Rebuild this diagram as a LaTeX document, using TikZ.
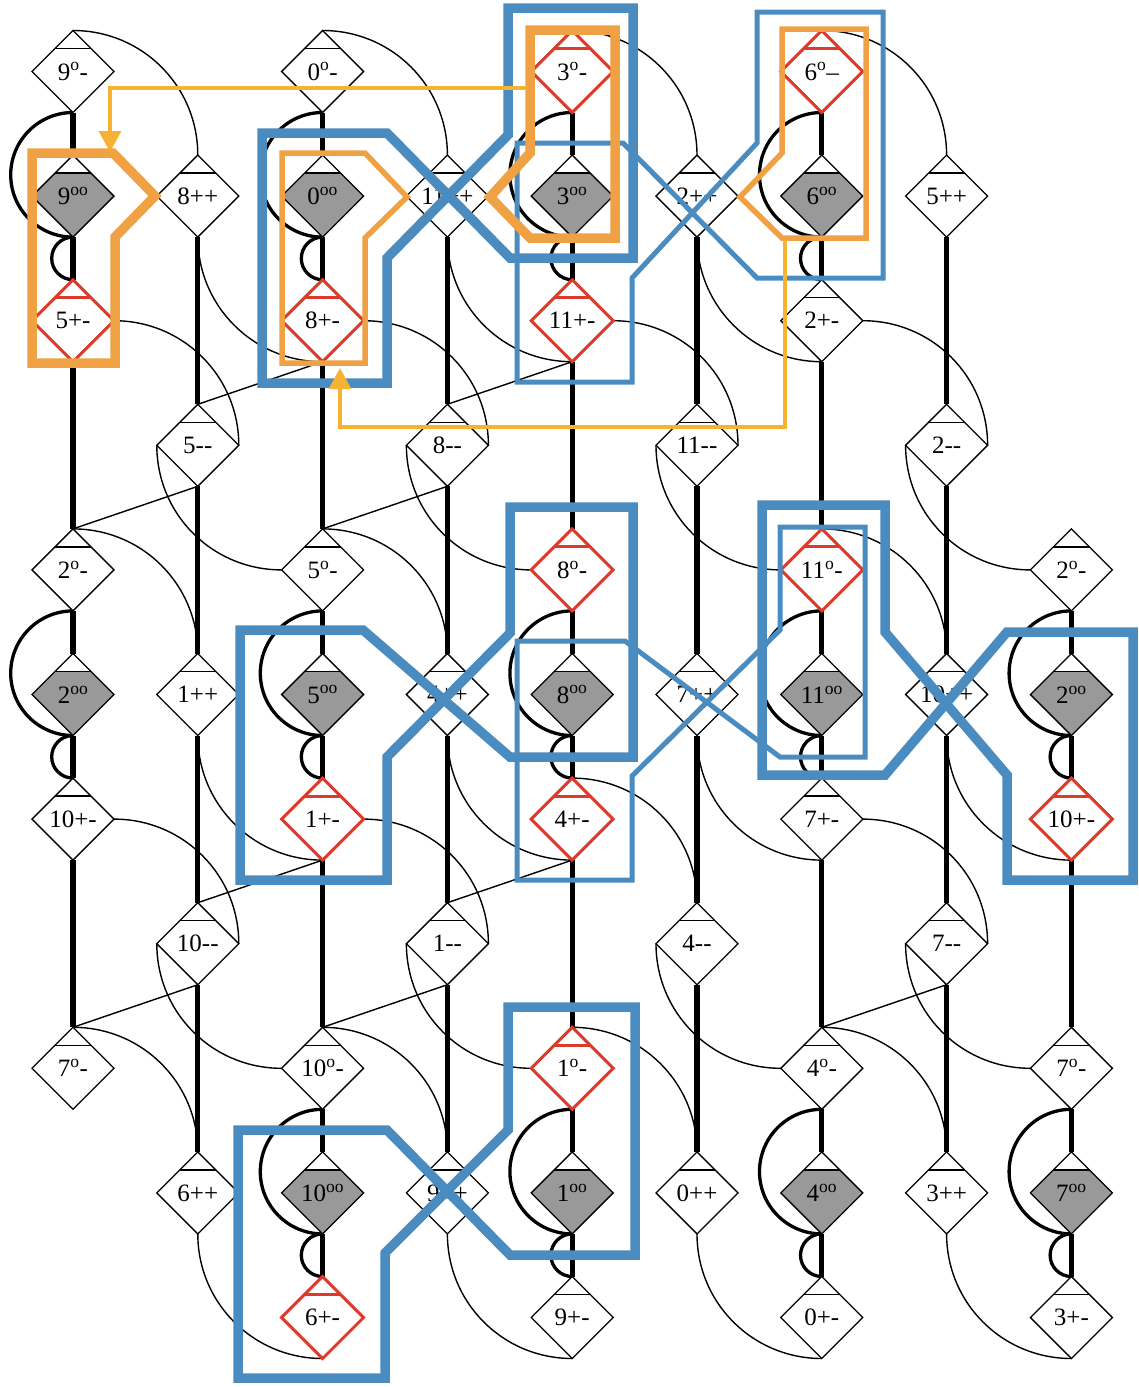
\documentclass[tikz,border=0pt]{standalone}
\usepackage{fontspec}
\setmainfont{Liberation Serif}
\usetikzlibrary{shapes.geometric, arrows.meta, backgrounds}

\definecolor{hlblue}{HTML}{4A8CC0}
\definecolor{hlorange}{HTML}{F0A144}
\definecolor{flowgold}{HTML}{F5B233}
\definecolor{sitered}{HTML}{DC3A2A}

% horizontal cut near the top vertex of a site
\newcommand{\cutline}[1]{\draw[#1] ([yshift=-18pt]path picture bounding box.north west) -- ([yshift=-18pt]path picture bounding box.north east);}

\begin{document}
\begin{tikzpicture}[
    x=1pt, y=1pt,
    site/.style={diamond, draw=black, fill=white, line width=1.3pt,
                 minimum width=82pt, minimum height=82pt, inner sep=0pt, outer sep=0pt,
                 font=\fontsize{25}{28}\selectfont,
                 path picture={\cutline{black, line width=1.3pt}}},
    hotsite/.style={site, draw=sitered, line width=3pt,
                 path picture={\cutline{sitered, line width=3pt}}},
    darksite/.style={site, fill=black!40,
                 path picture={\fill[white] (path picture bounding box.north west) rectangle ([yshift=-18pt]path picture bounding box.north east);
                               \cutline{black, line width=1.3pt}}},
    spine/.style={line width=5.3pt},
    bigturn/.style={line width=3.3pt},
    link/.style={line width=1.4pt},
    blueband/.style={draw=hlblue, line width=9.5pt, line join=miter},
    bluethin/.style={draw=hlblue, line width=5pt, line join=miter},
    orangeband/.style={draw=hlorange, line width=9.5pt, line join=miter},
    orangethin/.style={draw=hlorange, line width=5.5pt, line join=miter},
    flow/.style={draw=flowgold, line width=3.5pt, -{Triangle[width=22pt,length=21pt]}},
]

\useasboundingbox (0,0) rectangle (1139,-1387);

% ---- plain sites ----
\foreach \i/\j/\lab in {0/0/{9\textsuperscript{o}-}, 2/0/{0\textsuperscript{o}-},
    1/1/{8++}, 3/1/{11++}, 5/1/{2++}, 7/1/{5++}, 6/2/{2+-},
    1/3/{5-{}-}, 3/3/{8-{}-}, 5/3/{11-{}-}, 7/3/{2-{}-},
    0/4/{2\textsuperscript{o}-}, 2/4/{5\textsuperscript{o}-}, 8/4/{2\textsuperscript{o}-},
    1/5/{1++}, 3/5/{4++}, 5/5/{7++}, 7/5/{10++}, 0/6/{10+-}, 6/6/{7+-},
    1/7/{10-{}-}, 3/7/{1-{}-}, 5/7/{4-{}-}, 7/7/{7-{}-},
    0/8/{7\textsuperscript{o}-}, 2/8/{10\textsuperscript{o}-}, 6/8/{4\textsuperscript{o}-}, 8/8/{7\textsuperscript{o}-},
    1/9/{6++}, 3/9/{9++}, 5/9/{0++}, 7/9/{3++}, 4/10/{9+-}, 6/10/{0+-}, 8/10/{3+-}}
  \node[site] (n\i-\j) at ({73+124.8*\i},{-71.5-124.6*\j}) {\lab};

% ---- red sites ----
\foreach \i/\j/\lab in {4/0/{3\textsuperscript{o}-}, 6/0/{6\textsuperscript{o}--},
    0/2/{5+-}, 2/2/{8+-}, 4/2/{11+-}, 4/4/{8\textsuperscript{o}-}, 6/4/{11\textsuperscript{o}-},
    2/6/{1+-}, 4/6/{4+-}, 8/6/{10+-}, 4/8/{1\textsuperscript{o}-}, 2/10/{6+-}}
  \node[hotsite] (n\i-\j) at ({73+124.8*\i},{-71.5-124.6*\j}) {\lab};

% ---- grey sites ----
\foreach \i/\j/\lab in {0/1/9, 2/1/0, 4/1/3, 6/1/6, 0/5/2, 2/5/5, 4/5/8, 6/5/11, 8/5/2,
    2/9/10, 4/9/1, 6/9/4, 8/9/7}
  \node[darksite] (n\i-\j) at ({73+124.8*\i},{-71.5-124.6*\j}) {\lab\textsuperscript{oo}};

\begin{scope}[on background layer]
% ---- thick columns ----
\foreach \a/\b in {0/1,1/2,2/4,4/5,5/6,6/8}
  \draw[spine] (n0-\a.south) -- (n0-\b.north);
\foreach \c in {2,4,6}
  \foreach \a/\b in {0/1,1/2,2/4,4/5,5/6,6/8,8/9,9/10}
    \draw[spine] (n\c-\a.south) -- (n\c-\b.north);
\foreach \c in {1,3,5,7}
  \foreach \a/\b in {1/3,3/5,5/7,7/9}
    \draw[spine] (n\c-\a.south) -- (n\c-\b.north);
\foreach \a/\b in {4/5,5/6,6/8,8/9,9/10}
  \draw[spine] (n8-\a.south) -- (n8-\b.north);

% ---- half rings at the grey sites ----
\foreach \c/\r in {0/1,2/1,4/1,6/1,0/5,2/5,4/5,6/5,8/5,2/9,4/9,6/9,8/9} {
  \draw[bigturn] (n\c-\r.south) arc[start angle=-90, end angle=-270, radius=62.3];
  \draw[bigturn] (n\c-\r.south) arc[start angle=90, end angle=270, radius=21.3];
}

% ---- thin quarter arcs ----
\foreach \a/\b in {n0-0/n1-1, n2-0/n3-1, n4-0/n5-1, n6-0/n7-1, n0-4/n1-5, n2-4/n3-5,
    n6-4/n7-5, n0-8/n1-9, n2-8/n3-9, n4-8/n5-9, n6-8/n7-9, n4-6/n5-7}
  \draw[link] (\a.north) to[out=0, in=90] (\b.north);
\foreach \a/\b in {n1-1/n2-2, n3-1/n4-2, n5-1/n6-2, n1-5/n2-6, n3-5/n4-6, n5-5/n6-6,
    n7-5/n8-6, n1-9/n2-10, n3-9/n4-10, n5-9/n6-10, n7-9/n8-10}
  \draw[link] (\a.south) to[out=-90, in=180] (\b.south);
\foreach \a/\b in {n0-2/n1-3, n2-2/n3-3, n4-2/n5-3, n6-2/n7-3, n0-6/n1-7, n2-6/n3-7,
    n6-6/n7-7}
  \draw[link] (\a.east) to[out=0, in=90] (\b.east);
\foreach \a/\b in {n1-3/n2-4, n3-3/n4-4, n5-3/n6-4, n7-3/n8-4, n1-7/n2-8, n3-7/n4-8,
    n5-7/n6-8, n7-7/n8-8}
  \draw[link] (\a.west) to[out=-90, in=180] (\b.west);

% ---- straight ties ----
\foreach \a/\b in {n0-4/n1-3, n2-4/n3-3, n0-8/n1-7, n2-8/n3-7, n6-8/n7-7,
    n1-3/n2-2, n3-3/n4-2, n1-7/n2-6, n3-7/n4-6}
  \draw[link] (\a.north) -- (\b.south);
\end{scope}

% ---- blue outlines ----
\draw[blueband] (262,-133) -- (387,-133) -- (510,-258) -- (633,-258) -- (633,-8) -- (508,-8)
    -- (508,-135) -- (387,-258) -- (387,-383) -- (262,-383) -- cycle;
\draw[bluethin] (517,-143) -- (623,-143) -- (757,-278) -- (883,-278) -- (883,-12) -- (757,-12)
    -- (757,-143) -- (632,-278) -- (632,-382) -- (517,-382) -- cycle;
\draw[blueband] (240,-630) -- (363,-630) -- (510,-757) -- (633,-757) -- (633,-507) -- (510,-507)
    -- (510,-633) -- (387,-757) -- (387,-880) -- (240,-880) -- cycle;
\draw[bluethin] (517,-641) -- (625,-641) -- (780,-757) -- (865,-757) -- (865,-527) -- (780,-527)
    -- (780,-630) -- (632,-776) -- (632,-880) -- (517,-880) -- cycle;
\draw[blueband] (762,-505) -- (885,-505) -- (885,-632) -- (1007,-775) -- (1007,-880) -- (1133,-880)
    -- (1133,-632) -- (1007,-632) -- (885,-775) -- (762,-775) -- cycle;
\draw[blueband] (238,-1130) -- (387,-1130) -- (510,-1255) -- (635,-1255) -- (635,-1007) -- (508,-1007)
    -- (508,-1130) -- (385,-1253) -- (385,-1378) -- (238,-1378) -- cycle;

% ---- orange outlines ----
\draw[orangeband] (32,-153) -- (113,-153) -- (155,-196) -- (115,-237) -- (115,-363) -- (32,-363) -- cycle;
\draw[orangethin] (282,-153) -- (365,-153) -- (407,-197) -- (365,-238) -- (365,-363) -- (282,-363) -- cycle;
\draw[orangeband] (530,-30) -- (615,-30) -- (615,-238) -- (530,-238) -- (490,-197) -- (530,-153) -- cycle;
\draw[orangethin] (782,-29) -- (866,-29) -- (866,-238) -- (782,-238) -- (740,-197) -- (782,-153) -- cycle;

% ---- moves ----
\coordinate (fromthree) at (528,-88);
\coordinate (tonine) at (110,-152);
\draw[flow] (fromthree) -| (tonine);
\coordinate (fromsix) at (785,-240);
\coordinate (bend) at (340,-427);
\coordinate (toeight) at (340,-368);
\draw[flow] (fromsix) |- (bend) -- (toeight);

\end{tikzpicture}
\end{document}
